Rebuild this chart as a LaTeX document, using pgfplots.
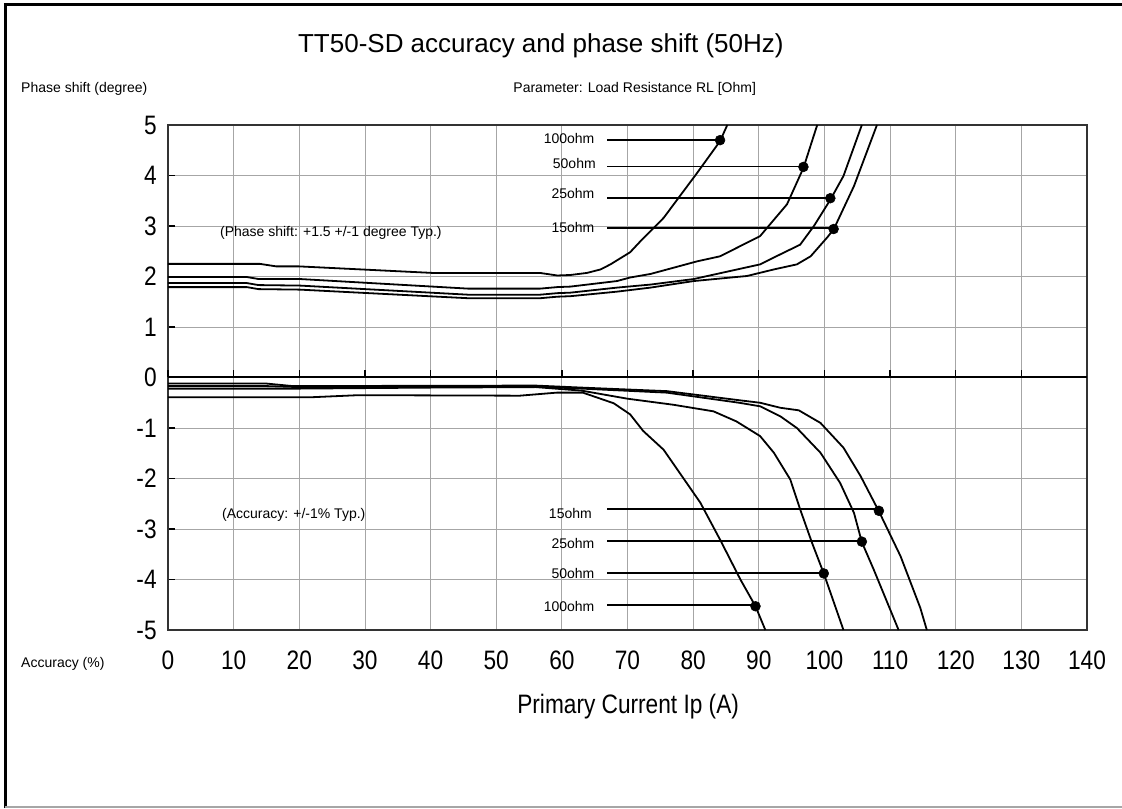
\documentclass[border=0pt]{standalone}
\usepackage{fontspec}
\setmainfont{Liberation Sans}
\newfontfamily\narrowfont{Liberation Sans}[FakeStretch=0.85]
\usepackage{pgfplots}
\pgfplotsset{compat=1.18}
\pgfplotsset{curve/.style={black, solid, line width=1.35pt, mark=none}}

\begin{document}
\begin{tikzpicture}
\useasboundingbox (-126pt,-133.5pt) rectangle (715.5pt,472.5pt);
\begin{axis}[
  at={(0,0)}, anchor=south west,
  scale only axis, width=689.25pt, height=378.75pt,
  xmin=0, xmax=140, ymin=-5, ymax=5,
  xtick={0,10,...,140}, ytick={-5,-4,...,5},
  xticklabels={0,10,20,30,40,50,60,70,80,90,100,110,120,130,140},
  yticklabels={-5,-4,-3,-2,-1,0,1,2,3,4,5},
  xtick pos=bottom, ytick pos=left,
  grid=major, grid style={black!35, line width=0.6pt},
  axis line style={black!80, line width=1.4pt},
  tick align=inside, major tick length=5pt,
  xtick style={draw=none}, ytick style={black, line width=0.8pt},
  ticklabel style={font=\narrowfont\fontsize{20}{24}\selectfont},
  yticklabel style={xshift=-5pt},
  xticklabel style={yshift=-12pt},
  clip=false,
]
% zero line with upward ticks
\addplot[curve, line width=1.5pt] coordinates {(0,0) (140,0)};
\addplot[curve, ycomb, line width=1pt] coordinates {(0,0.14) (10,0.14) (20,0.14) (30,0.14) (40,0.14) (50,0.14) (60,0.14) (70,0.14) (80,0.14) (90,0.14) (100,0.14) (110,0.14) (120,0.14) (130,0.14)};

% phase shift, 100 ohm
\addplot[curve] coordinates {(0,2.25) (14,2.25) (16.5,2.2) (20,2.2) (40.4,2.07) (56.7,2.07) (59.3,2.02) (61.3,2.03) (63.8,2.07) (65.9,2.14) (67.4,2.24) (70.4,2.48) (72.2,2.73) (75.5,3.16) (80.6,4.05) (84.1,4.68) (85.2,5.0)};
% 50 ohm
\addplot[curve] coordinates {(0,1.99) (12,1.99) (13.8,1.95) (20.1,1.95) (45.7,1.76) (56.7,1.76) (59.3,1.79) (61.3,1.80) (68.4,1.91) (70.4,1.98) (73.5,2.05) (80.6,2.30) (84.1,2.40) (90.2,2.80) (94.3,3.43) (96.8,4.15) (98.9,5.0)};
% 25 ohm
\addplot[curve] coordinates {(0,1.87) (12,1.87) (13.8,1.83) (20.1,1.82) (45.7,1.64) (56.7,1.64) (59.3,1.67) (61.3,1.68) (68.4,1.78) (73.5,1.84) (80.1,1.95) (90.2,2.24) (93.3,2.44) (96.3,2.63) (98.4,3.0) (100.9,3.52) (102.9,3.99) (105.7,5.0)};
% 15 ohm
\addplot[curve] coordinates {(0,1.79) (12,1.79) (13.8,1.75) (20.1,1.74) (45.7,1.57) (56.7,1.57) (59.3,1.60) (61.3,1.61) (68.4,1.70) (73.5,1.78) (80.1,1.91) (88.2,2.01) (92.3,2.14) (95.8,2.24) (97.9,2.40) (100.4,2.77) (101.4,2.93) (104.5,3.79) (108,5.0)};

% accuracy, 15 ohm
\addplot[curve] coordinates {(0,-0.12) (15,-0.12) (19,-0.17) (56,-0.16) (63,-0.20) (76,-0.27) (87,-0.45) (90.2,-0.50) (93.3,-0.60) (96.1,-0.65) (99.4,-0.90) (102.9,-1.39) (105.5,-1.95) (108.3,-2.65) (111.6,-3.54) (114.6,-4.56) (115.6,-5)};
% 25 ohm
\addplot[curve] coordinates {(0,-0.17) (15,-0.17) (20,-0.19) (56,-0.18) (63,-0.22) (76,-0.30) (87,-0.50) (90.2,-0.57) (93.3,-0.77) (95.8,-1.0) (99.4,-1.49) (102.4,-2.09) (104.5,-2.68) (105.7,-3.26) (107.5,-3.80) (111.3,-5)};
% 50 ohm
\addplot[curve] coordinates {(0,-0.22) (20,-0.22) (40,-0.20) (56,-0.19) (63,-0.26) (70,-0.42) (77,-0.54) (83.1,-0.67) (86.6,-0.87) (90.2,-1.16) (92.3,-1.49) (94.8,-2.02) (96.3,-2.61) (98.1,-3.27) (99.9,-3.88) (102.9,-5)};
% 100 ohm
\addplot[curve] coordinates {(0,-0.39) (22,-0.39) (29,-0.35) (53.6,-0.36) (59.2,-0.30) (63.2,-0.30) (67.9,-0.51) (70.4,-0.73) (72.4,-1.06) (75.5,-1.43) (81.1,-2.48) (84.1,-3.21) (87.2,-4.0) (89.5,-4.53) (91,-5)};

% leader lines
\addplot[curve] coordinates {(66.9,4.70) (84.1,4.70)};
\addplot[curve] coordinates {(66.9,4.18) (96.8,4.18)};
\addplot[curve] coordinates {(66.9,3.55) (100.9,3.55)};
\addplot[curve] coordinates {(66.9,2.96) (101.4,2.96)};
\addplot[curve] coordinates {(66.9,-2.61) (108.3,-2.61)};
\addplot[curve] coordinates {(66.9,-3.23) (105.7,-3.23)};
\addplot[curve] coordinates {(66.9,-3.87) (99.9,-3.87)};
\addplot[curve] coordinates {(66.9,-4.50) (89.5,-4.50)};
\addplot[black, only marks, mark=*, mark size=3.7pt] coordinates {(84.1,4.70) (96.8,4.17) (100.9,3.55) (101.4,2.94) (108.3,-2.64) (105.7,-3.25) (99.9,-3.88) (89.5,-4.53)};

\begin{scope}[every node/.style={font=\fontsize{10.5}{12}\selectfont, inner sep=0pt}]
\node[anchor=east] at (axis cs:65.0,4.73) {100ohm};
\node[anchor=east] at (axis cs:65.2,4.24) {50ohm};
\node[anchor=east] at (axis cs:65.0,3.64) {25ohm};
\node[anchor=east] at (axis cs:65.0,2.98) {15ohm};
\node[anchor=east] at (axis cs:64.6,-2.69) {15ohm};
\node[anchor=east] at (axis cs:65.0,-3.28) {25ohm};
\node[anchor=east] at (axis cs:65.0,-3.89) {50ohm};
\node[anchor=east] at (axis cs:65.0,-4.53) {100ohm};
\node[anchor=west] at (axis cs:7.9,2.87) {(Phase shift: +1.5 +/-1 degree Typ.)};
\node[anchor=west] at (axis cs:8.2,-2.73) {(Accuracy: +/-1\% Typ.)};
\node at (axis cs:71.1,5.72) {Parameter: Load Resistance RL [Ohm]};
\node[anchor=west] at (axis cs:-22.4,5.72) {Phase shift (degree)};
\node[anchor=west] at (axis cs:-22.4,-5.68) {Accuracy (\%)};
\end{scope}
\node[font=\fontsize{19.5}{23}\selectfont] at (axis cs:56.8,6.57) {TT50-SD accuracy and phase shift (50Hz)};
\node[font=\narrowfont\fontsize{20}{24}\selectfont] at (axis cs:70.1,-6.51) {Primary Current Ip (A)};
\end{axis}
\draw[line width=2pt] (-122pt,-133.5pt) -- (-122pt,470pt);
\draw[line width=1.8pt] (-123pt,469.1pt) -- (715.5pt,469.1pt);
\draw[black!35, line width=1pt] (-122pt,-132.75pt) -- (715.5pt,-132.75pt);
\end{tikzpicture}
\end{document}
